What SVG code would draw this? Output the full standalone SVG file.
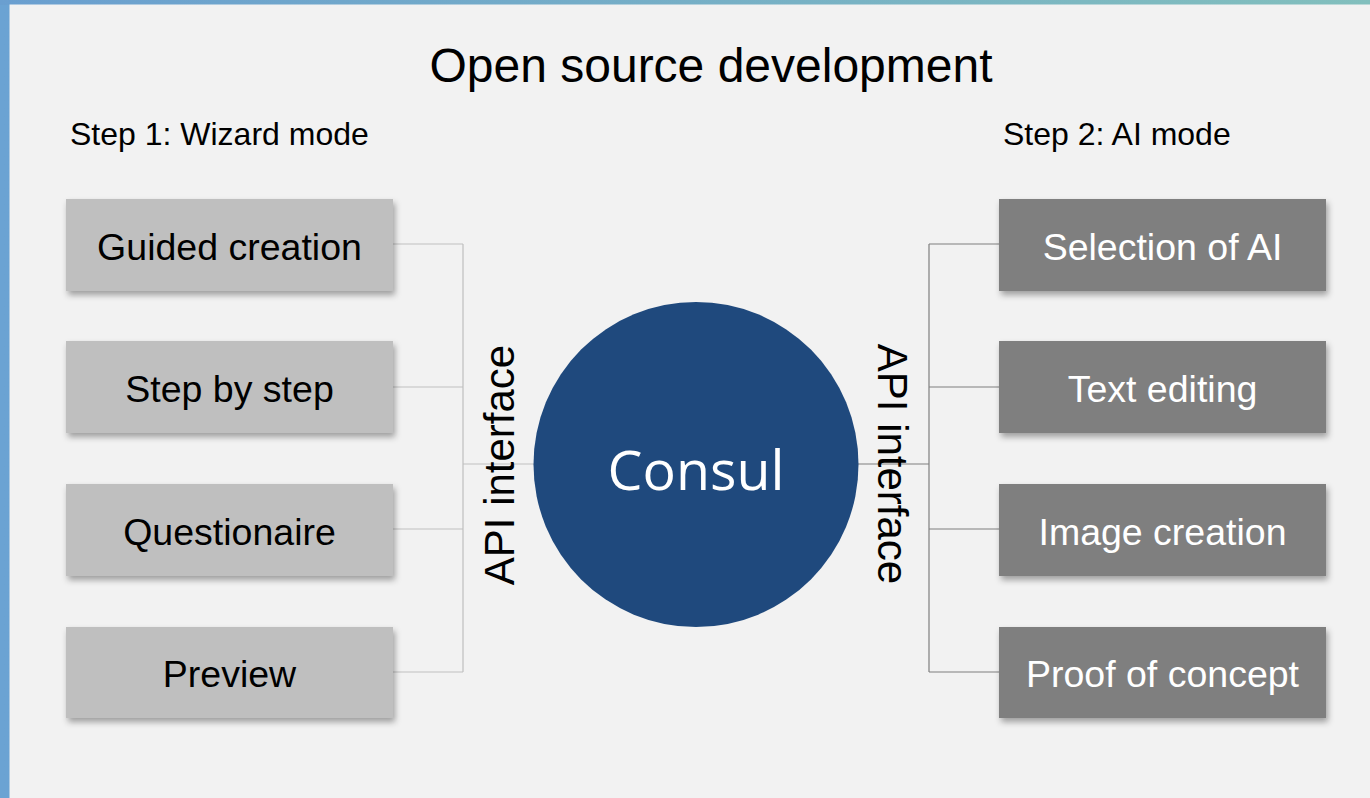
<svg xmlns="http://www.w3.org/2000/svg" width="1370" height="798" viewBox="0 0 1370 798">
<defs>
<linearGradient id="topg" x1="0" y1="0" x2="1" y2="0">
<stop offset="0" stop-color="#6a9fd0"/>
<stop offset="1" stop-color="#82bfbd"/>
</linearGradient>
<linearGradient id="leftg" x1="0" y1="0" x2="1" y2="0">
<stop offset="0" stop-color="#6ba3d3"/>
<stop offset="1" stop-color="#5e94c6"/>
</linearGradient>
<filter id="sh" x="-10%" y="-20%" width="125%" height="145%">
<feDropShadow dx="2" dy="4" stdDeviation="3" flood-color="#000" flood-opacity="0.35"/>
</filter>
</defs>
<style>
text{font-family:"Liberation Sans",Arial,sans-serif;}
.lbox{fill:#bfbfbf;filter:url(#sh);}
.rbox{fill:#7f7f7f;filter:url(#sh);}
.lt{font-size:37.5px;fill:#000;text-anchor:middle;}
.rt{font-size:37.5px;fill:#fff;text-anchor:middle;}
.lc{stroke:#bfbfbf;stroke-width:1.2;fill:none;}
.rc{stroke:#7f7f7f;stroke-width:1.2;fill:none;}
.api{font-size:42px;fill:#000;text-anchor:middle;}
</style>
<rect x="0" y="0" width="1370" height="798" fill="url(#leftg)"/>
<rect x="0" y="0" width="1370" height="5" fill="url(#topg)"/>
<rect x="9.5" y="4.5" width="1361" height="794" fill="#f2f2f2"/>
<text x="711" y="82" font-size="48" text-anchor="middle">Open source development</text>
<text x="70" y="145" font-size="32">Step 1: Wizard mode</text>
<text x="1003" y="145" font-size="32">Step 2: AI mode</text>
<g id="connectors">
<path class="lc" d="M393 244H463M393 387H463M393 529H463M393 672H463M463 244V672M463 464H534"/>
<path class="rc" d="M999 244H929M999 387H929M999 529H929M999 672H929M929 244V672M929 464H858"/>
</g>
<g id="api-left"><text class="api" transform="translate(514 465) rotate(-90)">API interface</text></g>
<g id="api-right"><text class="api" transform="translate(878 464) rotate(90)">API interface</text></g>
<g id="consul">
<circle cx="696" cy="464.5" r="162.5" fill="#1f497d"/>
<text x="696" y="490" font-size="55.5" fill="#fff" text-anchor="middle" style="font-family:'Open Sans','Noto Sans',sans-serif">Consul</text>
</g>
<g id="guided-creation"><rect class="lbox" x="66" y="199" width="327" height="92"/><text class="lt" x="229.5" y="260">Guided creation</text></g>
<g id="step-by-step"><rect class="lbox" x="66" y="341" width="327" height="92"/><text class="lt" x="229.5" y="402">Step by step</text></g>
<g id="questionaire"><rect class="lbox" x="66" y="484" width="327" height="92"/><text class="lt" x="229.5" y="545">Questionaire</text></g>
<g id="preview"><rect class="lbox" x="66" y="627" width="327" height="91"/><text class="lt" x="229.5" y="687">Preview</text></g>
<g id="selection-of-ai"><rect class="rbox" x="999" y="199" width="327" height="92"/><text class="rt" x="1162.5" y="260">Selection of AI</text></g>
<g id="text-editing"><rect class="rbox" x="999" y="341" width="327" height="92"/><text class="rt" x="1162.5" y="402">Text editing</text></g>
<g id="image-creation"><rect class="rbox" x="999" y="484" width="327" height="92"/><text class="rt" x="1162.5" y="545">Image creation</text></g>
<g id="proof-of-concept"><rect class="rbox" x="999" y="627" width="327" height="91"/><text class="rt" x="1162.5" y="687">Proof of concept</text></g>
</svg>
